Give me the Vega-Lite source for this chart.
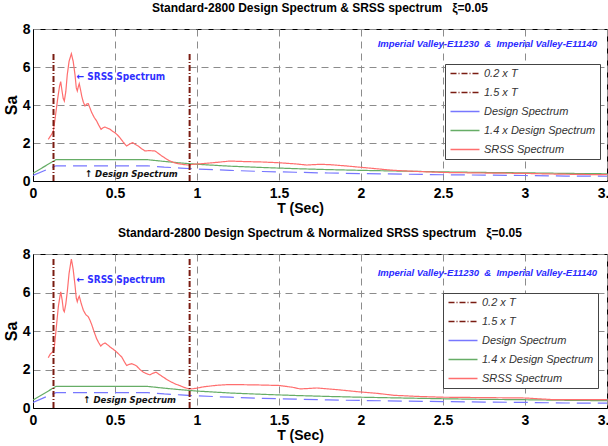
{
  "$schema": "https://vega.github.io/schema/vega-lite/v6.json",
  "padding": {"left": 2, "top": 1, "right": 0, "bottom": 0},
  "background": "white",
  "bounds": "flush",
  "spacing": 73,
  "datasets": {
    "design": [
      {"series": "Design Spectrum", "T": 0, "Sa": 0.29},
      {"series": "Design Spectrum", "T": 0.14, "Sa": 0.8},
      {"series": "Design Spectrum", "T": 0.7, "Sa": 0.8},
      {"series": "Design Spectrum", "T": 0.8, "Sa": 0.73},
      {"series": "Design Spectrum", "T": 0.9, "Sa": 0.68},
      {"series": "Design Spectrum", "T": 1.0, "Sa": 0.63},
      {"series": "Design Spectrum", "T": 1.2, "Sa": 0.56},
      {"series": "Design Spectrum", "T": 1.4, "Sa": 0.5},
      {"series": "Design Spectrum", "T": 1.6, "Sa": 0.46},
      {"series": "Design Spectrum", "T": 1.8, "Sa": 0.42},
      {"series": "Design Spectrum", "T": 2.0, "Sa": 0.39},
      {"series": "Design Spectrum", "T": 2.25, "Sa": 0.36},
      {"series": "Design Spectrum", "T": 2.5, "Sa": 0.33},
      {"series": "Design Spectrum", "T": 2.75, "Sa": 0.31},
      {"series": "Design Spectrum", "T": 3.0, "Sa": 0.29},
      {"series": "Design Spectrum", "T": 3.25, "Sa": 0.26},
      {"series": "Design Spectrum", "T": 3.5, "Sa": 0.25},
      {"series": "1.4 x Design Spectrum", "T": 0, "Sa": 0.41},
      {"series": "1.4 x Design Spectrum", "T": 0.14, "Sa": 1.12},
      {"series": "1.4 x Design Spectrum", "T": 0.7, "Sa": 1.12},
      {"series": "1.4 x Design Spectrum", "T": 0.8, "Sa": 1.03},
      {"series": "1.4 x Design Spectrum", "T": 0.9, "Sa": 0.95},
      {"series": "1.4 x Design Spectrum", "T": 1.0, "Sa": 0.88},
      {"series": "1.4 x Design Spectrum", "T": 1.2, "Sa": 0.78},
      {"series": "1.4 x Design Spectrum", "T": 1.4, "Sa": 0.71},
      {"series": "1.4 x Design Spectrum", "T": 1.6, "Sa": 0.65},
      {"series": "1.4 x Design Spectrum", "T": 1.8, "Sa": 0.6},
      {"series": "1.4 x Design Spectrum", "T": 2.0, "Sa": 0.56},
      {"series": "1.4 x Design Spectrum", "T": 2.25, "Sa": 0.52},
      {"series": "1.4 x Design Spectrum", "T": 2.5, "Sa": 0.48},
      {"series": "1.4 x Design Spectrum", "T": 2.75, "Sa": 0.45},
      {"series": "1.4 x Design Spectrum", "T": 3.0, "Sa": 0.43},
      {"series": "1.4 x Design Spectrum", "T": 3.25, "Sa": 0.4},
      {"series": "1.4 x Design Spectrum", "T": 3.5, "Sa": 0.38}
    ],
    "srss_top": [
      {"series": "SRSS Spectrum", "T": 0.093, "Sa": 2.19},
      {"series": "SRSS Spectrum", "T": 0.105, "Sa": 2.35},
      {"series": "SRSS Spectrum", "T": 0.114, "Sa": 2.46},
      {"series": "SRSS Spectrum", "T": 0.124, "Sa": 2.63},
      {"series": "SRSS Spectrum", "T": 0.135, "Sa": 3.3},
      {"series": "SRSS Spectrum", "T": 0.15, "Sa": 4.3},
      {"series": "SRSS Spectrum", "T": 0.162, "Sa": 5.0},
      {"series": "SRSS Spectrum", "T": 0.169, "Sa": 5.23},
      {"series": "SRSS Spectrum", "T": 0.176, "Sa": 4.8},
      {"series": "SRSS Spectrum", "T": 0.184, "Sa": 4.35},
      {"series": "SRSS Spectrum", "T": 0.191, "Sa": 4.21},
      {"series": "SRSS Spectrum", "T": 0.2, "Sa": 4.7},
      {"series": "SRSS Spectrum", "T": 0.209, "Sa": 5.6},
      {"series": "SRSS Spectrum", "T": 0.22, "Sa": 6.3},
      {"series": "SRSS Spectrum", "T": 0.234, "Sa": 6.7},
      {"series": "SRSS Spectrum", "T": 0.245, "Sa": 6.3},
      {"series": "SRSS Spectrum", "T": 0.256, "Sa": 5.6},
      {"series": "SRSS Spectrum", "T": 0.264, "Sa": 4.9},
      {"series": "SRSS Spectrum", "T": 0.27, "Sa": 4.74},
      {"series": "SRSS Spectrum", "T": 0.276, "Sa": 4.95},
      {"series": "SRSS Spectrum", "T": 0.282, "Sa": 5.12},
      {"series": "SRSS Spectrum", "T": 0.29, "Sa": 4.8},
      {"series": "SRSS Spectrum", "T": 0.297, "Sa": 4.47},
      {"series": "SRSS Spectrum", "T": 0.307, "Sa": 4.15},
      {"series": "SRSS Spectrum", "T": 0.317, "Sa": 3.95},
      {"series": "SRSS Spectrum", "T": 0.327, "Sa": 4.05},
      {"series": "SRSS Spectrum", "T": 0.337, "Sa": 4.07},
      {"series": "SRSS Spectrum", "T": 0.347, "Sa": 3.85},
      {"series": "SRSS Spectrum", "T": 0.358, "Sa": 3.6},
      {"series": "SRSS Spectrum", "T": 0.373, "Sa": 3.35},
      {"series": "SRSS Spectrum", "T": 0.388, "Sa": 3.16},
      {"series": "SRSS Spectrum", "T": 0.4, "Sa": 2.95},
      {"series": "SRSS Spectrum", "T": 0.415, "Sa": 2.72},
      {"series": "SRSS Spectrum", "T": 0.427, "Sa": 2.8},
      {"series": "SRSS Spectrum", "T": 0.439, "Sa": 2.84},
      {"series": "SRSS Spectrum", "T": 0.455, "Sa": 2.78},
      {"series": "SRSS Spectrum", "T": 0.47, "Sa": 2.72},
      {"series": "SRSS Spectrum", "T": 0.485, "Sa": 2.62},
      {"series": "SRSS Spectrum", "T": 0.5, "Sa": 2.54},
      {"series": "SRSS Spectrum", "T": 0.515, "Sa": 2.42},
      {"series": "SRSS Spectrum", "T": 0.53, "Sa": 2.28},
      {"series": "SRSS Spectrum", "T": 0.55, "Sa": 2.05},
      {"series": "SRSS Spectrum", "T": 0.571, "Sa": 1.84},
      {"series": "SRSS Spectrum", "T": 0.59, "Sa": 1.95},
      {"series": "SRSS Spectrum", "T": 0.608, "Sa": 2.02},
      {"series": "SRSS Spectrum", "T": 0.625, "Sa": 1.92},
      {"series": "SRSS Spectrum", "T": 0.642, "Sa": 1.84},
      {"series": "SRSS Spectrum", "T": 0.662, "Sa": 1.7},
      {"series": "SRSS Spectrum", "T": 0.683, "Sa": 1.58},
      {"series": "SRSS Spectrum", "T": 0.71, "Sa": 1.6},
      {"series": "SRSS Spectrum", "T": 0.744, "Sa": 1.58},
      {"series": "SRSS Spectrum", "T": 0.765, "Sa": 1.45},
      {"series": "SRSS Spectrum", "T": 0.785, "Sa": 1.32},
      {"series": "SRSS Spectrum", "T": 0.81, "Sa": 1.18},
      {"series": "SRSS Spectrum", "T": 0.835, "Sa": 1.05},
      {"series": "SRSS Spectrum", "T": 0.86, "Sa": 0.97},
      {"series": "SRSS Spectrum", "T": 0.886, "Sa": 0.91},
      {"series": "SRSS Spectrum", "T": 0.915, "Sa": 0.87},
      {"series": "SRSS Spectrum", "T": 0.947, "Sa": 0.84},
      {"series": "SRSS Spectrum", "T": 0.977, "Sa": 0.88},
      {"series": "SRSS Spectrum", "T": 1.04, "Sa": 0.92},
      {"series": "SRSS Spectrum", "T": 1.12, "Sa": 0.98},
      {"series": "SRSS Spectrum", "T": 1.2, "Sa": 1.05},
      {"series": "SRSS Spectrum", "T": 1.3, "Sa": 1.02},
      {"series": "SRSS Spectrum", "T": 1.4, "Sa": 1.0},
      {"series": "SRSS Spectrum", "T": 1.5, "Sa": 0.96},
      {"series": "SRSS Spectrum", "T": 1.6, "Sa": 0.9},
      {"series": "SRSS Spectrum", "T": 1.67, "Sa": 0.84},
      {"series": "SRSS Spectrum", "T": 1.75, "Sa": 0.88},
      {"series": "SRSS Spectrum", "T": 1.81, "Sa": 0.86},
      {"series": "SRSS Spectrum", "T": 1.9, "Sa": 0.8},
      {"series": "SRSS Spectrum", "T": 2.0, "Sa": 0.72},
      {"series": "SRSS Spectrum", "T": 2.1, "Sa": 0.64},
      {"series": "SRSS Spectrum", "T": 2.2, "Sa": 0.56},
      {"series": "SRSS Spectrum", "T": 2.35, "Sa": 0.5},
      {"series": "SRSS Spectrum", "T": 2.5, "Sa": 0.45},
      {"series": "SRSS Spectrum", "T": 2.75, "Sa": 0.42},
      {"series": "SRSS Spectrum", "T": 3.0, "Sa": 0.4},
      {"series": "SRSS Spectrum", "T": 3.15, "Sa": 0.37},
      {"series": "SRSS Spectrum", "T": 3.3, "Sa": 0.35},
      {"series": "SRSS Spectrum", "T": 3.5, "Sa": 0.33}
    ],
    "srss_bot": [
      {"series": "SRSS Spectrum", "T": 0.093, "Sa": 2.61},
      {"series": "SRSS Spectrum", "T": 0.105, "Sa": 2.8},
      {"series": "SRSS Spectrum", "T": 0.114, "Sa": 2.87},
      {"series": "SRSS Spectrum", "T": 0.128, "Sa": 2.99},
      {"series": "SRSS Spectrum", "T": 0.14, "Sa": 4.0},
      {"series": "SRSS Spectrum", "T": 0.155, "Sa": 5.3},
      {"series": "SRSS Spectrum", "T": 0.169, "Sa": 6.04},
      {"series": "SRSS Spectrum", "T": 0.178, "Sa": 5.6},
      {"series": "SRSS Spectrum", "T": 0.185, "Sa": 5.1},
      {"series": "SRSS Spectrum", "T": 0.191, "Sa": 5.0},
      {"series": "SRSS Spectrum", "T": 0.2, "Sa": 5.4},
      {"series": "SRSS Spectrum", "T": 0.209, "Sa": 6.04},
      {"series": "SRSS Spectrum", "T": 0.22, "Sa": 7.0},
      {"series": "SRSS Spectrum", "T": 0.234, "Sa": 7.74},
      {"series": "SRSS Spectrum", "T": 0.245, "Sa": 7.2},
      {"series": "SRSS Spectrum", "T": 0.256, "Sa": 6.39},
      {"series": "SRSS Spectrum", "T": 0.264, "Sa": 5.7},
      {"series": "SRSS Spectrum", "T": 0.27, "Sa": 5.52},
      {"series": "SRSS Spectrum", "T": 0.276, "Sa": 5.7},
      {"series": "SRSS Spectrum", "T": 0.282, "Sa": 5.81},
      {"series": "SRSS Spectrum", "T": 0.295, "Sa": 5.4},
      {"series": "SRSS Spectrum", "T": 0.307, "Sa": 5.08},
      {"series": "SRSS Spectrum", "T": 0.322, "Sa": 4.85},
      {"series": "SRSS Spectrum", "T": 0.337, "Sa": 4.74},
      {"series": "SRSS Spectrum", "T": 0.348, "Sa": 4.55},
      {"series": "SRSS Spectrum", "T": 0.358, "Sa": 4.33},
      {"series": "SRSS Spectrum", "T": 0.373, "Sa": 3.95},
      {"series": "SRSS Spectrum", "T": 0.388, "Sa": 3.6},
      {"series": "SRSS Spectrum", "T": 0.4, "Sa": 3.4},
      {"series": "SRSS Spectrum", "T": 0.413, "Sa": 3.22},
      {"series": "SRSS Spectrum", "T": 0.426, "Sa": 3.32},
      {"series": "SRSS Spectrum", "T": 0.439, "Sa": 3.38},
      {"series": "SRSS Spectrum", "T": 0.455, "Sa": 3.28},
      {"series": "SRSS Spectrum", "T": 0.47, "Sa": 3.17},
      {"series": "SRSS Spectrum", "T": 0.488, "Sa": 3.06},
      {"series": "SRSS Spectrum", "T": 0.506, "Sa": 2.94},
      {"series": "SRSS Spectrum", "T": 0.523, "Sa": 2.8},
      {"series": "SRSS Spectrum", "T": 0.541, "Sa": 2.65},
      {"series": "SRSS Spectrum", "T": 0.556, "Sa": 2.42},
      {"series": "SRSS Spectrum", "T": 0.571, "Sa": 2.21},
      {"series": "SRSS Spectrum", "T": 0.587, "Sa": 2.27},
      {"series": "SRSS Spectrum", "T": 0.602, "Sa": 2.3},
      {"series": "SRSS Spectrum", "T": 0.617, "Sa": 2.25},
      {"series": "SRSS Spectrum", "T": 0.632, "Sa": 2.18},
      {"series": "SRSS Spectrum", "T": 0.652, "Sa": 2.0},
      {"series": "SRSS Spectrum", "T": 0.673, "Sa": 1.86},
      {"series": "SRSS Spectrum", "T": 0.693, "Sa": 1.78},
      {"series": "SRSS Spectrum", "T": 0.713, "Sa": 1.72},
      {"series": "SRSS Spectrum", "T": 0.73, "Sa": 1.8},
      {"series": "SRSS Spectrum", "T": 0.75, "Sa": 1.86},
      {"series": "SRSS Spectrum", "T": 0.772, "Sa": 1.73},
      {"series": "SRSS Spectrum", "T": 0.795, "Sa": 1.6},
      {"series": "SRSS Spectrum", "T": 0.82, "Sa": 1.46},
      {"series": "SRSS Spectrum", "T": 0.846, "Sa": 1.34},
      {"series": "SRSS Spectrum", "T": 0.87, "Sa": 1.24},
      {"series": "SRSS Spectrum", "T": 0.896, "Sa": 1.16},
      {"series": "SRSS Spectrum", "T": 0.925, "Sa": 1.06},
      {"series": "SRSS Spectrum", "T": 0.953, "Sa": 0.99},
      {"series": "SRSS Spectrum", "T": 0.975, "Sa": 1.0},
      {"series": "SRSS Spectrum", "T": 0.998, "Sa": 1.03},
      {"series": "SRSS Spectrum", "T": 1.04, "Sa": 1.1},
      {"series": "SRSS Spectrum", "T": 1.12, "Sa": 1.18},
      {"series": "SRSS Spectrum", "T": 1.2, "Sa": 1.22},
      {"series": "SRSS Spectrum", "T": 1.36, "Sa": 1.2},
      {"series": "SRSS Spectrum", "T": 1.5, "Sa": 1.17},
      {"series": "SRSS Spectrum", "T": 1.58, "Sa": 1.08},
      {"series": "SRSS Spectrum", "T": 1.63, "Sa": 0.99},
      {"series": "SRSS Spectrum", "T": 1.73, "Sa": 1.04},
      {"series": "SRSS Spectrum", "T": 1.87, "Sa": 0.94},
      {"series": "SRSS Spectrum", "T": 2.0, "Sa": 0.83},
      {"series": "SRSS Spectrum", "T": 2.1, "Sa": 0.76},
      {"series": "SRSS Spectrum", "T": 2.2, "Sa": 0.66},
      {"series": "SRSS Spectrum", "T": 2.35, "Sa": 0.6},
      {"series": "SRSS Spectrum", "T": 2.5, "Sa": 0.56},
      {"series": "SRSS Spectrum", "T": 2.75, "Sa": 0.54},
      {"series": "SRSS Spectrum", "T": 3.0, "Sa": 0.52},
      {"series": "SRSS Spectrum", "T": 3.1, "Sa": 0.47},
      {"series": "SRSS Spectrum", "T": 3.18, "Sa": 0.43},
      {"series": "SRSS Spectrum", "T": 3.3, "Sa": 0.43},
      {"series": "SRSS Spectrum", "T": 3.5, "Sa": 0.43}
    ],
    "vl_top": [
      {"series": "0.2 x T", "T": 0.125, "Sa": 0, "top": 6.7},
      {"series": "1.5 x T", "T": 0.955, "Sa": 0, "top": 6.7}
    ],
    "vl_bot": [
      {"series": "0.2 x T", "T": 0.125, "Sa": 0, "top": 7.75},
      {"series": "1.5 x T", "T": 0.955, "Sa": 0, "top": 7.75}
    ],
    "notes_top": [
      {"kind": "srss", "label": "← SRSS Spectrum", "T": 0.266, "Sa": 5.47},
      {"kind": "design", "label": "↑ Design Spectrum", "T": 0.317, "Sa": 0.38},
      {"kind": "record", "label": "Imperial Valley-E11230 \u00a0&\u00a0 Imperial Valley-E11140", "T": 3.44, "Sa": 7.2}
    ],
    "notes_bot": [
      {"kind": "srss", "label": "← SRSS Spectrum", "T": 0.266, "Sa": 6.65},
      {"kind": "design", "label": "↑ Design Spectrum", "T": 0.307, "Sa": 0.42},
      {"kind": "record", "label": "Imperial Valley-E11230 \u00a0&\u00a0 Imperial Valley-E11140", "T": 3.44, "Sa": 7.0}
    ]
  },
  "resolve": {"legend": {"color": "independent", "strokeDash": "independent"}},
  "vconcat": [
    {
      "width": 574,
      "height": 152,
      "title": {"text": "Standard-2800 Design Spectrum & SRSS spectrum \u00a0\u00a0ξ=0.05", "offset": 7},
      "encoding": {
        "x": {"field": "T", "type": "quantitative", "scale": {"domain": [0, 3.5]},
          "axis": {"values": [0, 0.5, 1, 1.5, 2, 2.5, 3, 3.5], "format": "~g", "title": "T (Sec)", "titleX": 267, "labelPadding": 5, "titlePadding": 1}},
        "y": {"field": "Sa", "type": "quantitative", "scale": {"domain": [0, 8]},
          "axis": {"values": [0, 2, 4, 6, 8], "title": "Sa", "titleFontSize": 16, "labelPadding": 3, "titlePadding": 3}}
      },
      "layer": [
        {
          "data": {"name": "design"},
          "transform": [{"filter": "datum.series == '1.4 x Design Spectrum'"}],
          "mark": {"type": "line", "strokeWidth": 1.2, "clip": true},
          "encoding": {
            "color": {"field": "series", "type": "nominal",
              "scale": {"domain": ["0.2 x T", "1.5 x T", "Design Spectrum", "1.4 x Design Spectrum", "SRSS Spectrum"], "range": ["#7a1c12", "#7a1c12", "#7777ff", "#66ad66", "#ff6e6e"]},
              "legend": {"title": null, "orient": "none", "legendX": 412, "legendY": 35, "symbolType": "M-1,0H6.25", "symbolSize": 64, "symbolStrokeWidth": 1.5, "labelOffset": 24, "labelFont": "Liberation Sans", "labelFontSize": 11, "labelFontStyle": "italic", "labelColor": "#333333", "rowPadding": 7, "padding": 4, "strokeColor": "#444444", "fillColor": "white"}},
            "strokeDash": {"field": "series", "type": "nominal",
              "scale": {"domain": ["0.2 x T", "1.5 x T", "Design Spectrum", "1.4 x Design Spectrum", "SRSS Spectrum"], "range": [[6, 2, 1, 2], [6, 2, 1, 2], [1, 0], [1, 0], [1, 0]]},
              "legend": {"title": null, "orient": "none", "legendX": 412, "legendY": 35, "symbolType": "M-1,0H6.25", "symbolSize": 64, "symbolStrokeWidth": 1.5, "labelOffset": 24, "labelFont": "Liberation Sans", "labelFontSize": 11, "labelFontStyle": "italic", "labelColor": "#333333", "rowPadding": 7, "padding": 4, "strokeColor": "#444444", "fillColor": "white"}}
          }
        },
        {
          "data": {"name": "design"},
          "transform": [{"filter": "datum.series == 'Design Spectrum'"}],
          "mark": {"type": "line", "strokeWidth": 1.2, "clip": true, "strokeDash": [14, 7]},
          "encoding": {"color": {"field": "series", "type": "nominal"}}
        },
        {
          "data": {"name": "srss_top"},
          "mark": {"type": "line", "strokeWidth": 1.2, "clip": true},
          "encoding": {"color": {"field": "series", "type": "nominal"}, "strokeDash": {"field": "series", "type": "nominal"}}
        },
        {
          "data": {"name": "vl_top"},
          "mark": {"type": "rule", "strokeWidth": 2},
          "encoding": {"y2": {"field": "top"}, "color": {"field": "series", "type": "nominal"}, "strokeDash": {"field": "series", "type": "nominal"}}
        },
        {
          "data": {"name": "notes_top"},
          "transform": [{"filter": "datum.kind == 'srss'"}],
          "mark": {"type": "text", "align": "left", "baseline": "middle", "font": "DejaVu Sans Condensed", "fontSize": 10, "fontWeight": "bold", "color": "#3030ff"},
          "encoding": {"text": {"field": "label"}}
        },
        {
          "data": {"name": "notes_top"},
          "transform": [{"filter": "datum.kind == 'design'"}],
          "mark": {"type": "text", "align": "left", "baseline": "middle", "font": "DejaVu Sans Condensed", "fontSize": 9.5, "fontWeight": "bold", "fontStyle": "italic", "color": "#111111"},
          "encoding": {"text": {"field": "label"}}
        },
        {
          "data": {"name": "notes_top"},
          "transform": [{"filter": "datum.kind == 'record'"}],
          "mark": {"type": "text", "align": "right", "baseline": "middle", "font": "Liberation Sans", "fontSize": 9.5, "fontWeight": "bold", "fontStyle": "italic", "color": "#2a2aff"},
          "encoding": {"text": {"field": "label"}}
        }
      ]
    },
    {
      "width": 574,
      "height": 154,
      "title": {"text": "Standard-2800 Design Spectrum & Normalized SRSS spectrum \u00a0\u00a0ξ=0.05", "offset": 7},
      "encoding": {
        "x": {"field": "T", "type": "quantitative", "scale": {"domain": [0, 3.5]},
          "axis": {"values": [0, 0.5, 1, 1.5, 2, 2.5, 3, 3.5], "format": "~g", "title": "T (Sec)", "titleX": 267, "labelPadding": 5, "titlePadding": 1}},
        "y": {"field": "Sa", "type": "quantitative", "scale": {"domain": [0, 8]},
          "axis": {"values": [0, 2, 4, 6, 8], "title": "Sa", "titleFontSize": 16, "labelPadding": 3, "titlePadding": 3}}
      },
      "layer": [
        {
          "data": {"name": "design"},
          "transform": [{"filter": "datum.series == '1.4 x Design Spectrum'"}],
          "mark": {"type": "line", "strokeWidth": 1.2, "clip": true},
          "encoding": {
            "color": {"field": "series", "type": "nominal",
              "scale": {"domain": ["0.2 x T", "1.5 x T", "Design Spectrum", "1.4 x Design Spectrum", "SRSS Spectrum"], "range": ["#7a1c12", "#7a1c12", "#7777ff", "#66ad66", "#ff6e6e"]},
              "legend": {"title": null, "orient": "none", "legendX": 410, "legendY": 39, "symbolType": "M-1,0H6.25", "symbolSize": 64, "symbolStrokeWidth": 1.5, "labelOffset": 24, "labelFont": "Liberation Sans", "labelFontSize": 11, "labelFontStyle": "italic", "labelColor": "#333333", "rowPadding": 7, "padding": 4, "strokeColor": "#444444", "fillColor": "white"}},
            "strokeDash": {"field": "series", "type": "nominal",
              "scale": {"domain": ["0.2 x T", "1.5 x T", "Design Spectrum", "1.4 x Design Spectrum", "SRSS Spectrum"], "range": [[6, 2, 1, 2], [6, 2, 1, 2], [1, 0], [1, 0], [1, 0]]},
              "legend": {"title": null, "orient": "none", "legendX": 410, "legendY": 39, "symbolType": "M-1,0H6.25", "symbolSize": 64, "symbolStrokeWidth": 1.5, "labelOffset": 24, "labelFont": "Liberation Sans", "labelFontSize": 11, "labelFontStyle": "italic", "labelColor": "#333333", "rowPadding": 7, "padding": 4, "strokeColor": "#444444", "fillColor": "white"}}
          }
        },
        {
          "data": {"name": "design"},
          "transform": [{"filter": "datum.series == 'Design Spectrum'"}],
          "mark": {"type": "line", "strokeWidth": 1.2, "clip": true, "strokeDash": [14, 7]},
          "encoding": {"color": {"field": "series", "type": "nominal"}}
        },
        {
          "data": {"name": "srss_bot"},
          "mark": {"type": "line", "strokeWidth": 1.2, "clip": true},
          "encoding": {"color": {"field": "series", "type": "nominal"}, "strokeDash": {"field": "series", "type": "nominal"}}
        },
        {
          "data": {"name": "vl_bot"},
          "mark": {"type": "rule", "strokeWidth": 2},
          "encoding": {"y2": {"field": "top"}, "color": {"field": "series", "type": "nominal"}, "strokeDash": {"field": "series", "type": "nominal"}}
        },
        {
          "data": {"name": "notes_bot"},
          "transform": [{"filter": "datum.kind == 'srss'"}],
          "mark": {"type": "text", "align": "left", "baseline": "middle", "font": "DejaVu Sans Condensed", "fontSize": 10, "fontWeight": "bold", "color": "#3030ff"},
          "encoding": {"text": {"field": "label"}}
        },
        {
          "data": {"name": "notes_bot"},
          "transform": [{"filter": "datum.kind == 'design'"}],
          "mark": {"type": "text", "align": "left", "baseline": "middle", "font": "DejaVu Sans Condensed", "fontSize": 9.5, "fontWeight": "bold", "fontStyle": "italic", "color": "#111111"},
          "encoding": {"text": {"field": "label"}}
        },
        {
          "data": {"name": "notes_bot"},
          "transform": [{"filter": "datum.kind == 'record'"}],
          "mark": {"type": "text", "align": "right", "baseline": "middle", "font": "Liberation Sans", "fontSize": 9.5, "fontWeight": "bold", "fontStyle": "italic", "color": "#2a2aff"},
          "encoding": {"text": {"field": "label"}}
        }
      ]
    }
  ],
  "config": {
    "font": "Liberation Sans",
    "view": {"stroke": "black", "strokeWidth": 1},
    "axis": {"labelFont": "Liberation Sans", "labelFontSize": 14, "labelFontWeight": "bold", "labelColor": "black", "titleFont": "Liberation Sans", "titleFontSize": 14, "titleFontWeight": "bold", "titleColor": "black", "domainColor": "black", "ticks": false, "gridColor": "#8c8c8c", "gridDash": [7, 5], "gridWidth": 1, "gridOpacity": 1, "labelFlush": false},
    "title": {"font": "Liberation Sans", "fontSize": 12, "fontWeight": "bold", "color": "black"}
  }
}
